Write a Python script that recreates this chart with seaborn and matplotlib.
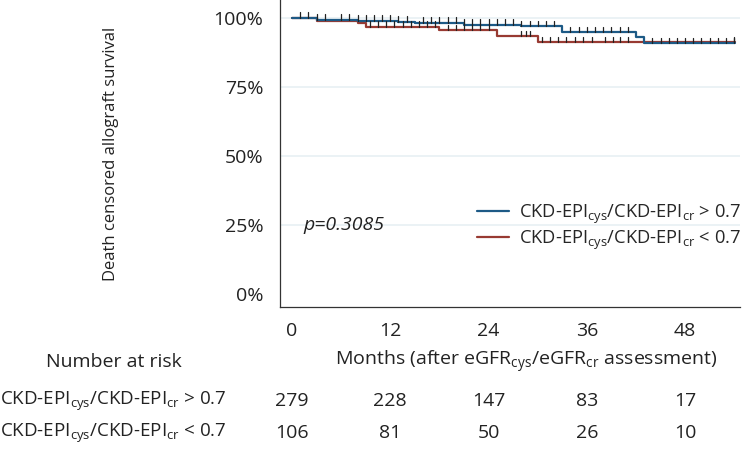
import numpy as np
import pandas as pd
import matplotlib
matplotlib.use('Agg')
import matplotlib.pyplot as plt
import seaborn as sns

# step curves (months, survival)
hi_times = [0, 3, 8, 13, 15, 21, 28, 33, 42, 43, 54.1]
hi_surv = [1.0, 0.993, 0.989, 0.986, 0.982, 0.976, 0.970, 0.949, 0.931, 0.909, 0.909]
lo_times = [0, 3, 8, 9, 18, 25, 30, 54.1]
lo_surv = [1.0, 0.990, 0.981, 0.968, 0.956, 0.933, 0.912, 0.912]

# censoring marks
hi_cens = [1, 2, 3, 4, 6, 7, 8, 9, 10, 11, 12, 13, 14, 16, 17, 18, 19, 20, 21, 22, 23, 24,
           25, 26, 27, 28, 29, 30, 31, 32, 34, 35, 36, 37, 38, 39, 40, 41, 44, 45, 46, 47,
           48, 49, 50, 51, 52, 53, 54]
lo_cens = [9.5, 10.5, 11.5, 12.5, 13.5, 14.5, 15.5, 16.5, 17.5, 19, 20, 21, 22, 23, 24,
           28, 28.6, 29, 30.5, 31.5, 32.5, 33.5, 34.5, 35.5, 36.6, 38.2, 39.2, 40, 41, 54]

risk_times = [0, 12, 24, 36, 48]
risk_hi = [279, 228, 147, 83, 17]
risk_lo = [106, 81, 50, 26, 10]

lab_hi = r'CKD-EPI$_{cys}$/CKD-EPI$_{cr}$ > 0.7'
lab_lo = r'CKD-EPI$_{cys}$/CKD-EPI$_{cr}$ < 0.7'
c_hi = '#1d5a86'
c_lo = '#983a32'

sns.set_style('white')
plt.rcParams['font.family'] = ['Open Sans', 'DejaVu Sans']
plt.rcParams['mathtext.fontset'] = 'custom'
plt.rcParams['mathtext.rm'] = 'Open Sans'
plt.rcParams['mathtext.it'] = 'Open Sans:italic'
plt.rcParams['mathtext.default'] = 'regular'

fig = plt.figure(figsize=(7.47, 4.49), dpi=100)
ax = fig.add_axes([0.3748, 0.3163, 0.6158, 0.6837])

for yv in [0.25, 0.5, 0.75, 1.0]:
    ax.axhline(yv, color='#e8f0f3', lw=1.2, zorder=0)

df_hi = pd.DataFrame({'t': hi_times, 's': hi_surv})
df_lo = pd.DataFrame({'t': lo_times, 's': lo_surv})
sns.lineplot(data=df_lo, x='t', y='s', drawstyle='steps-post', color=c_lo, lw=1.6, ax=ax, label=lab_lo)
sns.lineplot(data=df_hi, x='t', y='s', drawstyle='steps-post', color=c_hi, lw=1.6, ax=ax, label=lab_hi)


def surv_at(times, surv, t):
    idx = np.searchsorted(times, t, side='right') - 1
    return surv[max(idx, 0)]


for cens, times, surv in [(hi_cens, hi_times, hi_surv), (lo_cens, lo_times, lo_surv)]:
    for t in cens:
        s = surv_at(times, surv, t)
        ax.plot([t, t], [s, s + 0.02], color='#222222', lw=0.9, zorder=3)

ax.set_xlim(-1.47, 54.7)
ax.set_ylim(-0.047, 1.065)
ax.set_yticks([0, 0.25, 0.5, 0.75, 1.0])
ax.set_yticklabels(['0%', '25%', '50%', '75%', '100%'])
ax.set_xticks(risk_times)
ax.set_xticklabels([str(t) for t in risk_times])
ax.tick_params(axis='both', length=5, width=0.9, color='#333333', labelsize=14, labelcolor='#222222')
ax.tick_params(axis='x', pad=6)
ax.tick_params(axis='y', pad=7)
for side in ['top', 'right']:
    ax.spines[side].set_visible(False)
for side in ['left', 'bottom']:
    ax.spines[side].set_color('#333333')
    ax.spines[side].set_linewidth(0.9)
ax.set_xlabel('')
ax.set_ylabel('Death censored allograft survival', fontsize=12, color='#222222')
ax.yaxis.set_label_coords((119 - 280) / 460, 0.5)

handles, labels = ax.get_legend_handles_labels()
ax.legend(handles[::-1], labels[::-1], loc='upper left', bbox_to_anchor=(0.428, 0.34),
          frameon=False, fontsize=13.2, handlelength=1.75, handletextpad=0.55, labelspacing=0.15,
          borderaxespad=0, borderpad=0)

ax.text(1.35, 0.25, 'p=0.3085', fontsize=14, style='italic', color='#222222', va='center')

# number at risk table
fig.text(114 / 747, 1 - 362 / 449, 'Number at risk', fontsize=14, ha='center', va='center', color='#222222')
fig.text(526 / 747, 1 - 362 / 449, r'Months (after eGFR$_{cys}$/eGFR$_{cr}$ assessment)',
         fontsize=14, ha='center', va='center', color='#222222')
for y_px, lab, vals in [(401, lab_hi, risk_hi), (433, lab_lo, risk_lo)]:
    fig.text(0.0, 1 - y_px / 449, lab, fontsize=13.5, ha='left', va='center', color='#222222')
    for t, v in zip(risk_times, vals):
        xf = ax.transData.transform((t, 0))[0] / fig.bbox.width
        fig.text(xf, 1 - y_px / 449, str(v), fontsize=14, ha='center', va='center', color='#222222')

fig.savefig('out.png', dpi=100)
